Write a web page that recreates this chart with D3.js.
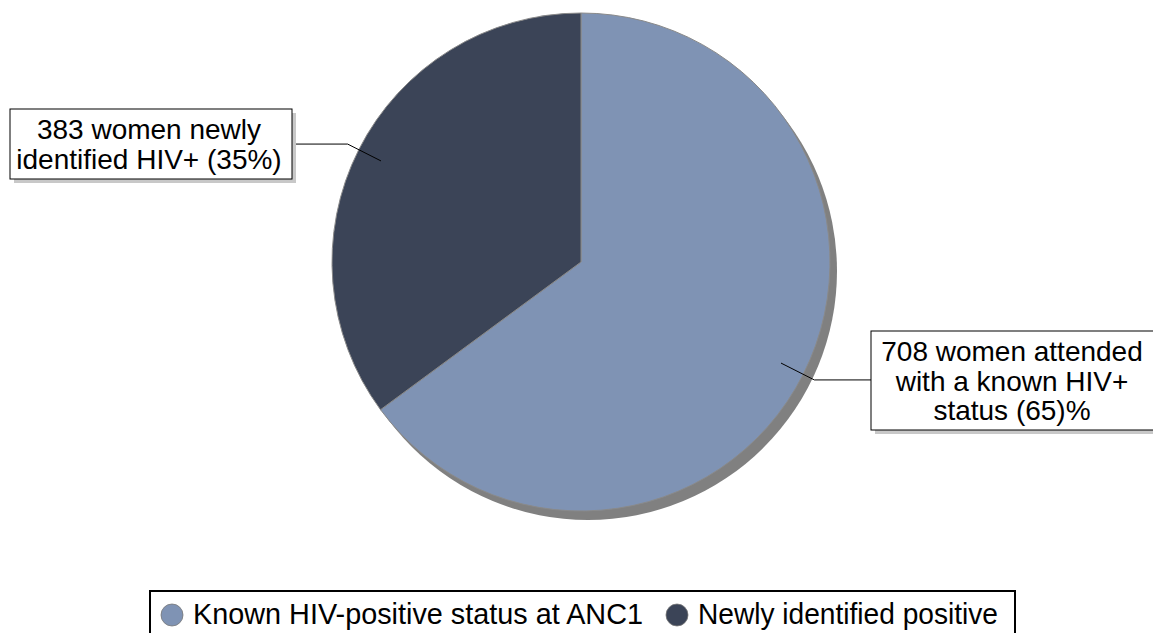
<!DOCTYPE html>
<html>
<head>
<meta charset="utf-8">
<script src="https://cdn.jsdelivr.net/npm/d3@7"></script>
<style>
  body { margin: 0; background: #fff; }
  text { font-family: "Liberation Sans", Arial, sans-serif; fill: #000; }
</style>
</head>
<body>
<script>
// data
const categories = ["Known HIV-positive status at ANC1", "Newly identified positive"];
const counts = [708, 383];
const sliceLabels = [
  ["708 women attended", "with a known HIV+", "status (65)%"],
  ["383 women newly", "identified HIV+ (35%)"]
];
const colors = ["#7f93b4", "#3b4457"];

const width = 1153, height = 633;
const cx = 581, cy = 262, r = 249;

const svg = d3.select("body").append("svg")
  .attr("width", width)
  .attr("height", height);

// light slice clockwise from 12 o'clock, dark slice fills the rest
const pie = d3.pie().sort(null).value(d => d);
const arcs = pie(counts);

const arc = d3.arc().innerRadius(0).outerRadius(r);

const g = svg.append("g").attr("transform", "translate(" + cx + "," + cy + ")");

// drop shadow
g.append("circle")
  .attr("cx", 7).attr("cy", 9).attr("r", r)
  .attr("fill", "#808080");

g.selectAll("path.slice")
  .data(arcs)
  .enter()
  .append("path")
  .attr("class", "slice")
  .attr("d", arc)
  .attr("fill", (d, i) => colors[i])
  .attr("stroke", "#8a8a8a")
  .attr("stroke-width", 1);

// label boxes
const boxes = [
  {x: 871, y: 331, w: 290, h: 99, anchor: "left", tx: 1012},
  {x: 10, y: 109, w: 282, h: 70, anchor: "right", tx: 149}
];
const lineH = 29.5;

arcs.forEach(function(d, i) {
  const b = boxes[i];
  // leader: from inside the slice, out past the rim, then flat to the box
  const pIn = d3.arc().innerRadius(r * 0.9).outerRadius(r * 0.9).centroid(d);
  const pOut = d3.arc().innerRadius(r * 1.05).outerRadius(r * 1.05).centroid(d);
  const lx = cx + pIn[0], ly = cy + pIn[1];
  const ex = cx + pOut[0], ey = cy + pOut[1];
  const bx = b.anchor === "left" ? b.x : b.x + b.w;

  svg.append("polyline")
    .attr("points", [[lx, ly], [ex, ey], [bx, ey]].map(p => p.join(",")).join(" "))
    .attr("fill", "none")
    .attr("stroke", "#000")
    .attr("stroke-width", 1);

  svg.append("rect")
    .attr("x", b.x + 4).attr("y", b.y + 4)
    .attr("width", b.w).attr("height", b.h)
    .attr("fill", "#c8c8c8");
  svg.append("rect")
    .attr("x", b.x).attr("y", b.y)
    .attr("width", b.w).attr("height", b.h)
    .attr("fill", "#fff")
    .attr("stroke", "#000")
    .attr("stroke-width", 1);

  const lines = sliceLabels[i];
  const top = b.y + b.h / 2 - (lines.length - 1) * lineH / 2;
  const t = svg.append("text")
    .attr("text-anchor", "middle")
    .attr("font-size", 28);
  lines.forEach(function(s, j) {
    t.append("tspan")
      .attr("x", b.tx)
      .attr("y", top + j * lineH + 10)
      .text(s);
  });
});

// legend
const legend = svg.append("g");
legend.append("rect")
  .attr("x", 150).attr("y", 591)
  .attr("width", 865).attr("height", 60)
  .attr("fill", "#fff")
  .attr("stroke", "#000")
  .attr("stroke-width", 2);

const legendX = [172, 677];
const legendLen = [450, 300];
categories.forEach(function(c, i) {
  legend.append("circle")
    .attr("cx", legendX[i]).attr("cy", 615)
    .attr("r", 11)
    .attr("fill", colors[i])
    .attr("stroke", "#777")
    .attr("stroke-width", 0.8);
  legend.append("text")
    .attr("x", legendX[i] + 21).attr("y", 624)
    .attr("font-size", 29)
    .attr("textLength", legendLen[i])
    .attr("lengthAdjust", "spacingAndGlyphs")
    .text(c);
});
</script>
</body>
</html>
